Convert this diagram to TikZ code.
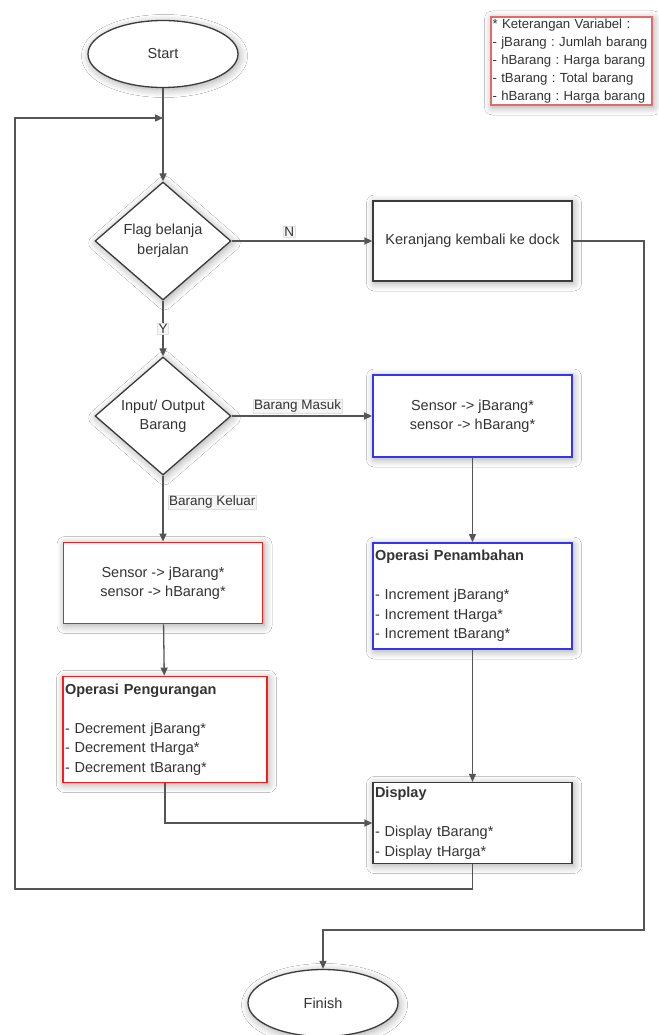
\documentclass[tikz,border=0pt]{standalone}
\usepackage{fontspec}
\setmainfont{Liberation Sans}
\usetikzlibrary{arrows.meta,shapes.geometric,shadows.blur}
\definecolor{txt}{HTML}{333333}
\definecolor{ln}{HTML}{555555}
\definecolor{bd}{HTML}{3A3A3A}
\definecolor{myred}{HTML}{FF1A1A}
\definecolor{myblue}{HTML}{3535F0}
\definecolor{legred}{HTML}{E46A6A}
\begin{document}
\frenchspacing
\begin{tikzpicture}[x=1pt,y=-1pt,
  shade/.style={blur shadow={shadow xshift=1.5pt,shadow yshift=-2pt,shadow blur radius=8pt,shadow blur steps=10,shadow opacity=35}},
  base/.style={draw=bd, line width=1.3pt, fill=white, text=txt, font=\fontsize{14.5}{19.5}\selectfont, shade},
  term/.style={base, ellipse, minimum width=150pt, minimum height=67pt, inner sep=0pt},
  dec/.style={base, diamond, minimum width=136pt, minimum height=118pt, aspect=1.15, inner sep=0pt, align=center},
  proc/.style={base, rectangle, minimum width=199pt, align=center, inner sep=1pt},
  redbox/.style={proc, draw=myred, line width=1.8pt},
  bluebox/.style={proc, draw=myblue, line width=1.8pt},
  listbox/.style={text width=#1, align=left},
  conn/.style={draw=ln, line width=1.3pt, -{Triangle[length=8pt,width=7pt]}},
  lbl/.style={fill=black!4, draw=black!12, line width=0.4pt, inner sep=1pt, text=txt, font=\fontsize{13.5}{16}\selectfont}
]
\useasboundingbox (0,0) rectangle (658,1035);
\fill[white] (0,0) rectangle (658,1035);

% legend
\node[draw=legred, line width=1.2pt, fill=white, shade, minimum width=161pt, minimum height=88pt, text width=158pt, align=left, inner sep=1.5pt, text=txt, font=\fontsize{13.2}{18}\selectfont] (legend) at (571.5,61)
{* Keterangan Variabel :\\- jBarang : Jumlah barang\\- hBarang : Harga barang\\- tBarang : Total barang\\- hBarang : Harga barang};

% nodes
\node[term] (start) at (163,54) {Start};
\node[dec] (d1) at (163,241) {Flag belanja\\berjalan};
\node[proc, minimum height=80pt] (ker) at (472.5,241) {Keranjang kembali ke dock};
\node[dec] (d2) at (163,416) {Input/ Output\\Barang};
\node[bluebox, minimum height=82pt] (b1) at (472.5,416) {Sensor -> jBarang*\\sensor -> hBarang*};
\node[redbox, minimum height=81pt] (r1) at (163,583) {Sensor -> jBarang*\\sensor -> hBarang*};
\node[redbox, minimum width=204pt, minimum height=106pt, listbox=200pt] (r2) at (165,729.5)
{\textbf{Operasi Pengurangan}\\[19.5pt]- Decrement jBarang*\\- Decrement tHarga*\\- Decrement tBarang*};
\node[bluebox, minimum height=106pt, listbox=195pt] (b2) at (472.5,596)
{\textbf{Operasi Penambahan}\\[19.5pt]- Increment jBarang*\\- Increment tHarga*\\- Increment tBarang*};
\node[proc, minimum height=81pt, listbox=195pt] (disp) at (472.5,823)
{\textbf{Display}\\[19.5pt]- Display tBarang*\\- Display tHarga*};
\node[term] (fin) at (323,1003) {Finish};

% helper coordinates
\coordinate (loopin) at (163,118);
\coordinate (loopbl) at (15,889);
\coordinate (rtop) at (644,241);
\coordinate (rbot) at (644,930);

% connectors
\draw[conn] (start) -- (d1);
\draw[conn] (d1) -- node[lbl, pos=0.41, yshift=9pt] {N} (ker);
\draw[conn] (d1) -- node[lbl] {Y} (d2);
\draw[conn] (d2) -- node[lbl, pos=0.47, yshift=10pt] {Barang Masuk} (b1);
\draw[conn] (d2) -- node[lbl, pos=0.4, anchor=west, xshift=5pt] {Barang Keluar} (r1);
\draw[conn] (b1) -- (b2);
\draw[conn] (r1) -- (r2);
\draw[conn] (b2) -- (disp);
\draw[conn] (r2.south) |- (disp.west);
\draw[conn] (disp.south) |- (loopbl) |- (loopin);
\draw[conn] (ker.east) -- (rtop) -- (rbot) -| (fin.north);
\end{tikzpicture}
\end{document}
